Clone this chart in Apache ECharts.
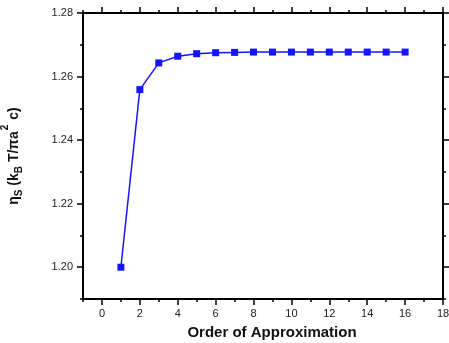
<!DOCTYPE html>
<html>
<head>
<meta charset="utf-8">
<script src="https://cdn.jsdelivr.net/npm/echarts@6/dist/echarts.min.js"></script>
<style>
html,body{margin:0;padding:0;background:#fff;}
#c{width:449px;height:343px;}
</style>
</head>
<body>
<div id="c"></div>
<script>
const orders = [1,2,3,4,5,6,7,8,9,10,11,12,13,14,15,16];
const etaValues = [1.2000,1.2559,1.2643,1.2664,1.2672,1.2675,1.2676,1.2677,1.2677,1.2677,1.2677,1.2677,1.2677,1.2677,1.2677,1.2677];
const xTickLabels = [0,2,4,6,8,10,12,14,16,18];
const yTickLabels = [1.20,1.22,1.24,1.26,1.28];

const chart = echarts.init(document.getElementById('c'));
const FONT = 'Liberation Sans';
const lineStyle = {color:'#000', width:2};
const xBase = {type:'value', min:-1, max:18, interval:1, splitLine:{show:false}};
const yBase = {type:'value', min:1.19, max:1.28, interval:0.01, splitLine:{show:false}};

chart.setOption({
  animation:false,
  backgroundColor:'#fff',
  grid:{left:83, right:6, top:13, bottom:44, containLabel:false, outerBoundsMode:'none'},
  xAxis:[
    Object.assign({}, xBase, {
      position:'bottom',
      axisLine:{show:true, onZero:false, lineStyle},
      axisTick:{show:true, length:3, lineStyle:{color:'#000', width:1.5}},
      axisLabel:{customValues:xTickLabels, fontFamily:FONT, fontSize:11, color:'#222', margin:9},
      name:'Order of Approximation', nameLocation:'middle', nameGap:26,
      nameTextStyle:{fontFamily:FONT, fontWeight:'bold', fontSize:15, color:'#111', padding:[0,0,0,18]}
    }),
    Object.assign({}, xBase, {
      position:'bottom',
      axisLine:{show:false, onZero:false},
      axisTick:{show:true, length:6, customValues:xTickLabels, lineStyle:{color:'#000', width:1.5}},
      axisLabel:{show:false}
    }),
    Object.assign({}, xBase, {
      position:'top',
      axisLine:{show:true, onZero:false, lineStyle},
      axisTick:{show:true, length:3, lineStyle:{color:'#000', width:1.5}},
      axisLabel:{show:false}
    }),
    Object.assign({}, xBase, {
      position:'top',
      axisLine:{show:false, onZero:false},
      axisTick:{show:true, length:6, customValues:xTickLabels, lineStyle:{color:'#000', width:1.5}},
      axisLabel:{show:false}
    })
  ],
  yAxis:[
    Object.assign({}, yBase, {
      position:'left',
      axisLine:{show:true, onZero:false, lineStyle},
      axisTick:{show:true, length:3, lineStyle:{color:'#000', width:1.5}},
      axisLabel:{customValues:yTickLabels, formatter:v=>v.toFixed(2), fontFamily:FONT, fontSize:11, color:'#222', margin:10},
      name:'{a|η}{s|S}{a| (k}{s|B}{a| T/πa}{p|2}{a| c)}',
      nameLocation:'middle', nameRotate:90, nameGap:55,
      nameTextStyle:{
        padding:[0,0,0,0],
        rich:{
          a:{fontFamily:FONT, fontWeight:'bold', fontSize:14, color:'#111', lineHeight:28, verticalAlign:'middle'},
          s:{fontFamily:FONT, fontWeight:'bold', fontSize:10, color:'#111', lineHeight:28, verticalAlign:'bottom', padding:[0,0,4,0]},
          p:{fontFamily:FONT, fontWeight:'bold', fontSize:10, color:'#111', lineHeight:28, verticalAlign:'top', padding:[0,1,0,1]}
        }
      }
    }),
    Object.assign({}, yBase, {
      position:'left',
      axisLine:{show:false, onZero:false},
      axisTick:{show:true, length:6, customValues:yTickLabels, lineStyle:{color:'#000', width:1.5}},
      axisLabel:{show:false}
    }),
    Object.assign({}, yBase, {
      position:'right',
      axisLine:{show:true, onZero:false, lineStyle},
      axisTick:{show:true, length:3, lineStyle:{color:'#000', width:1.5}},
      axisLabel:{show:false}
    }),
    Object.assign({}, yBase, {
      position:'right',
      axisLine:{show:false, onZero:false},
      axisTick:{show:true, length:6, customValues:yTickLabels, lineStyle:{color:'#000', width:1.5}},
      axisLabel:{show:false}
    })
  ],
  series:[{
    type:'line',
    xAxisIndex:0, yAxisIndex:0,
    data: orders.map((x,i)=>[x, etaValues[i]]),
    symbol:'rect', symbolSize:7,
    lineStyle:{color:'#1414ff', width:1.5},
    itemStyle:{color:'#1414ff'}
  }]
});
</script>
</body>
</html>
